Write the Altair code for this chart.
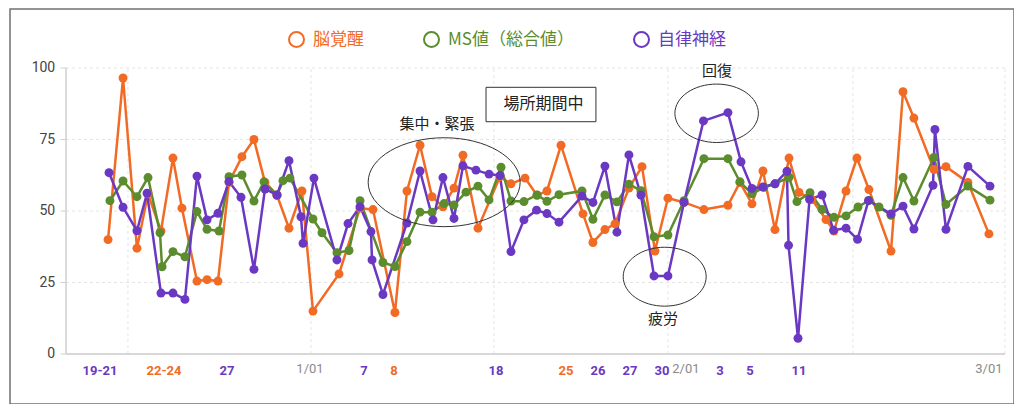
import altair as alt
import pandas as pd

# ---------------- data ----------------
SERIES = ["脳覚醒", "MS値（総合値）", "自律神経"]
COLORS = ["#F26B25", "#5B8C2D", "#6A38C2"]

ORANGE_T = [-0.08, 1.17, 2.33, 3.25, 4.33, 5.33, 6.08, 7.33, 8.17, 9.08, 10.0, 11.08, 12.08, 13.0,
            14.0, 15.0, 16.08, 17.0, 19.17, 20.92, 22.0, 23.83, 24.83, 25.92, 26.92, 27.83, 28.75,
            29.5, 30.75, 32.58, 33.5, 34.67, 35.67, 36.5, 37.67, 39.5, 40.33, 41.33, 42.17, 43.33,
            44.42, 45.5, 46.58, 47.92, 49.58, 51.58, 52.58, 53.58, 54.5, 55.5, 56.67, 57.5, 58.58,
            59.75, 60.42, 61.42, 62.33, 63.33, 65.17, 66.17, 67.08, 68.75, 69.75, 71.58, 73.33]
ORANGE_V = [40, 96.5, 37, 56, 43, 68.5, 51, 25.5, 26, 25.5, 60, 69, 75, 60,
            55.5, 44, 57, 15, 28, 51, 50.5, 14.5, 57, 73, 55, 51.5, 58,
            69.5, 44, 62, 59.5, 61.5, 55.5, 57, 73, 49, 39, 43.5, 45.5, 58,
            65.5, 36, 54.5, 53, 50.5, 52, 60, 52.5, 64, 43.5, 68.5, 56.5, 54,
            47, 43, 57, 68.5, 57.5, 36, 91.7, 82.5, 64.5, 65.5, 60, 42]

GREEN_T = [0.08, 1.17, 2.33, 3.25, 4.25, 4.42, 5.33, 6.33, 7.33, 8.17, 9.17, 10.0, 11.08, 12.08,
           12.92, 14.0, 14.5, 15.08, 17.0, 17.75, 19.0, 20.0, 20.92, 22.83, 23.83, 24.83, 25.92,
           26.92, 27.92, 28.75, 29.75, 30.75, 31.67, 32.67, 33.5, 34.58, 35.67, 36.5, 37.5, 39.42,
           40.33, 41.33, 42.33, 43.33, 44.33, 45.42, 46.58, 47.92, 49.58, 51.58, 52.58, 53.58,
           54.58, 55.5, 56.67, 57.33, 58.42, 59.42, 60.42, 61.42, 62.42, 63.33, 64.17, 65.17,
           66.17, 67.08, 68.75, 69.75, 71.58, 73.42]
GREEN_V = [53.6, 60.5, 55, 61.7, 42.4, 30.5, 35.8, 34, 49.8, 43.6, 43, 62, 62.6, 53.5,
           60.2, 55.6, 60.6, 61.5, 47.2, 42.4, 35.4, 36.2, 53.6, 32, 30.6, 39.3, 49.6,
           49.6, 52.6, 52.1, 56.6, 58.7, 53.9, 65.3, 53.5, 53.3, 55.6, 53.4, 55.7, 57,
           47.1, 55.6, 53.2, 59.4, 57.1, 41, 41.6, 53.6, 68.3, 68.3, 60.2, 56,
           58.3, 59.5, 61.8, 53.3, 56.4, 50.5, 47.8, 48.3, 51.4, 53.7, 51.4, 48.5,
           61.7, 53.5, 68.7, 52.3, 58.7, 53.8]

PURPLE_T = [0.0, 1.17, 2.33, 3.17, 4.33, 5.33, 6.33, 7.33, 8.17, 9.08, 10.0, 11.0, 12.08, 13.0,
            14.0, 15.0, 16.0, 16.17, 17.08, 19.0, 19.92, 20.92, 21.83, 21.92, 22.83, 24.83, 25.92,
            27.0, 27.83, 28.75, 29.5, 30.58, 31.67, 32.58, 33.5, 34.58, 35.63, 36.5, 37.5, 39.42,
            40.33, 41.33, 42.33, 43.33, 44.33, 45.42, 46.58, 47.92, 49.54, 51.58, 52.67, 53.58,
            54.5, 55.5, 56.5, 56.63, 57.42, 58.38, 59.42, 60.38, 61.42, 62.38, 63.29, 65.17,
            66.17, 67.08, 68.67, 68.83, 69.75, 71.58, 73.42]
PURPLE_V = [63.4, 51.3, 43.1, 56.2, 21.3, 21.3, 19.1, 62.2, 46.9, 49.2, 60.3, 54.8, 29.6, 57.7,
            55.6, 67.6, 48, 38.7, 61.5, 32.9, 45.6, 51.5, 42.8, 32.9, 20.8, 45.8, 64,
            46.9, 61.7, 47.4, 65.8, 64.3, 62.9, 62.4, 35.8, 46.9, 50.3, 49.1, 46.1, 55.2,
            53, 65.7, 42.6, 69.6, 55.6, 27.3, 27.3, 53, 81.5, 84.4, 67.2, 57.9,
            58.4, 59.5, 63.9, 38, 5.5, 54.1, 55.6, 43.3, 44, 40.1, 53.6, 49,
            51.7, 43.7, 59, 78.5, 43.6, 65.6, 58.7]

Y_TICKS = [0, 25, 50, 75, 100]
X_GRID = [1.58, 16.83, 32.08, 46.58, 62.0, 74.67]
AXIS_START = -3.58
AXIS_END = 74.67

BOTTOM_LABELS = ["19-21", "22-24", "27", "1/01", "7", "8", "18", "25", "26", "27", "30",
                 "2/01", "3", "5", "11", "3/01"]
BOTTOM_T = [-0.75, 4.58, 9.83, 16.75, 21.25, 23.75, 32.25, 38.08, 40.75, 43.42, 46.08,
            48.08, 50.92, 53.42, 57.5, 73.33]
BOTTOM_KIND = ["p", "o", "p", "d", "p", "o", "p", "o", "p", "p", "p", "d", "p", "p", "p", "d"]

NOTE_TEXT = ["集中・緊張", "場所期間中", "回復", "疲労"]
NOTE_T = [27.33, 36.21, 50.67, 46.17]
NOTE_V = [80.42, 87.41, 98.95, 12.24]

BOX_T = [31.42, 40.58]
BOX_V = [81.22, 93.25]

ELLIPSE_T = [27.93, 50.64, 46.31]
ELLIPSE_V = [60.07, 84.16, 27.03]

# ---------------- style ----------------
ELLIPSE_W = [152, 83.5, 83]
ELLIPSE_RATIO = [0.585, 0.70, 0.71]
JP = "Noto Sans CJK JP"
NUM = "Roboto"

xs = alt.Scale(domain=[-8.25, 75.42], nice=False, zero=False)
ys = alt.Scale(domain=[-17.48, 120.63], nice=False, zero=False)


def X(f):
    return alt.X(f, type="quantitative", scale=xs, axis=None)


def Y(f):
    return alt.Y(f, type="quantitative", scale=ys, axis=None)


data = pd.concat([
    pd.DataFrame({"t": ORANGE_T, "v": ORANGE_V, "series": SERIES[0]}),
    pd.DataFrame({"t": GREEN_T, "v": GREEN_V, "series": SERIES[1]}),
    pd.DataFrame({"t": PURPLE_T, "v": PURPLE_V, "series": SERIES[2]}),
], ignore_index=True)

hgrid_df = pd.DataFrame({"v": Y_TICKS[1:], "a": AXIS_START, "b": AXIS_END})
hgrid = alt.Chart(hgrid_df).mark_rule(color="#e4e4e4", strokeDash=[3, 3], strokeWidth=1).encode(
    x=X("a"), x2="b", y=Y("v"))

vgrid_df = pd.DataFrame({"t": X_GRID, "a": 0, "b": 100})
vgrid = alt.Chart(vgrid_df).mark_rule(color="#e4e4e4", strokeDash=[3, 3], strokeWidth=1).encode(
    x=X("t"), y=Y("a"), y2="b")

xaxis = alt.Chart(pd.DataFrame({"v": [0], "a": [AXIS_START], "b": [AXIS_END]})).mark_rule(
    color="#d8d8d8", strokeWidth=2).encode(x=X("a"), x2="b", y=Y("v"))
yaxis = alt.Chart(pd.DataFrame({"t": [AXIS_START], "a": [0], "b": [100]})).mark_rule(
    color="#cfcfcf", strokeWidth=1.5).encode(x=X("t"), y=Y("a"), y2="b")

ytick_df = pd.DataFrame({"v": Y_TICKS, "a": AXIS_START - 0.45, "b": AXIS_START})
yticks = alt.Chart(ytick_df).mark_rule(color="#cfcfcf", strokeWidth=1).encode(
    x=X("a"), x2="b", y=Y("v"))

ylab_df = pd.DataFrame({"v": Y_TICKS, "t": AXIS_START - 0.9, "txt": [str(v) for v in Y_TICKS]})
ylabels = alt.Chart(ylab_df).mark_text(align="right", baseline="middle", font=NUM, fontSize=14,
                                       color="#444").encode(x=X("t"), y=Y("v"), text="txt:N")

# one line layer and one dot layer per series, coloured directly
series_lines = []
series_dots = []
for name, col in zip(SERIES, COLORS):
    base = alt.Chart(data).transform_filter(alt.datum.series == name)
    series_lines.append(base.mark_line(strokeWidth=2.5, color=col).encode(x=X("t"), y=Y("v")))
    series_dots.append(base.mark_circle(size=80, opacity=1, color=col).encode(x=X("t"), y=Y("v")))

legend = alt.Legend(
    title=None, orient="none", legendX=278, legendY=22, direction="horizontal",
    symbolType="circle", symbolSize=225, symbolStrokeWidth=2, symbolFillColor="white",
    labelFont=JP, labelFontSize=17, labelOffset=8, columnPadding=56, padding=0, labelLimit=0,
    labelColor={"expr": f"datum.value == '{SERIES[0]}' ? '{COLORS[0]}' : "
                        f"datum.value == '{SERIES[1]}' ? '{COLORS[1]}' : '{COLORS[2]}'"},
)
# hollow-point layer with no rows: it only carries the legend (entries come from the scale domain)
legend_layer = alt.Chart(data).transform_filter(alt.datum.v < -1000).mark_point(
    filled=False, strokeWidth=2, opacity=1
).encode(
    x=X("t"), y=Y("v"),
    color=alt.Color("series:N", scale=alt.Scale(domain=SERIES, range=COLORS), legend=legend),
)

box = alt.Chart(pd.DataFrame({"a": [BOX_T[0]], "b": [BOX_T[1]], "c": [BOX_V[0]], "d": [BOX_V[1]]})).mark_rect(
    fill="white", stroke="#333", strokeWidth=1).encode(x=X("a"), x2="b", y=Y("c"), y2="d")

note_df = pd.DataFrame({"t": NOTE_T, "v": NOTE_V, "txt": NOTE_TEXT,
                        "fs": [15, 16, 15, 15]})
notes = alt.Chart(note_df).mark_text(font=JP, color="#222", baseline="middle", align="center").encode(
    x=X("t"), y=Y("v"), text="txt:N", size=alt.Size("fs:Q", scale=None))

ellipses = []
for i in range(3):
    r = ELLIPSE_RATIO[i]
    path = f"M-1,0A1,{r} 0 1,0 1,0A1,{r} 0 1,0 -1,0Z"
    e = alt.Chart(pd.DataFrame({"t": [ELLIPSE_T[i]], "v": [ELLIPSE_V[i]]})).mark_point(
        shape=path, size=ELLIPSE_W[i] ** 2, filled=False, color="#333", strokeWidth=1, opacity=1
    ).encode(x=X("t"), y=Y("v"))
    ellipses.append(e)

blab_df = pd.DataFrame({"t": BOTTOM_T, "txt": BOTTOM_LABELS, "kind": BOTTOM_KIND})
blab_df["v"] = [-5.24 if k == "d" else -5.94 for k in BOTTOM_KIND]
blabels = []
for kind, col, weight in [("o", COLORS[0], "bold"), ("p", COLORS[2], "bold"), ("d", "#8a8a8a", "normal")]:
    blabels.append(
        alt.Chart(blab_df).transform_filter(alt.datum.kind == kind).mark_text(
            font=NUM, fontSize=13, fontWeight=weight, color=col, baseline="middle", align="center"
        ).encode(x=X("t"), y=Y("v"), text="txt:N")
    )

chart = alt.layer(
    hgrid, vgrid, xaxis, yaxis, yticks, ylabels, *series_lines, *series_dots, legend_layer, box, notes,
    *ellipses, *blabels
).properties(
    width=1004, height=395,
    autosize=alt.AutoSizeParams(type="none"),
    padding={"left": 2, "top": 1, "right": 0, "bottom": 0},
    background="white",
).configure_view(stroke="#707070", strokeWidth=1.5)

chart.save("out.html", embed_options={"renderer": "svg", "actions": False})
